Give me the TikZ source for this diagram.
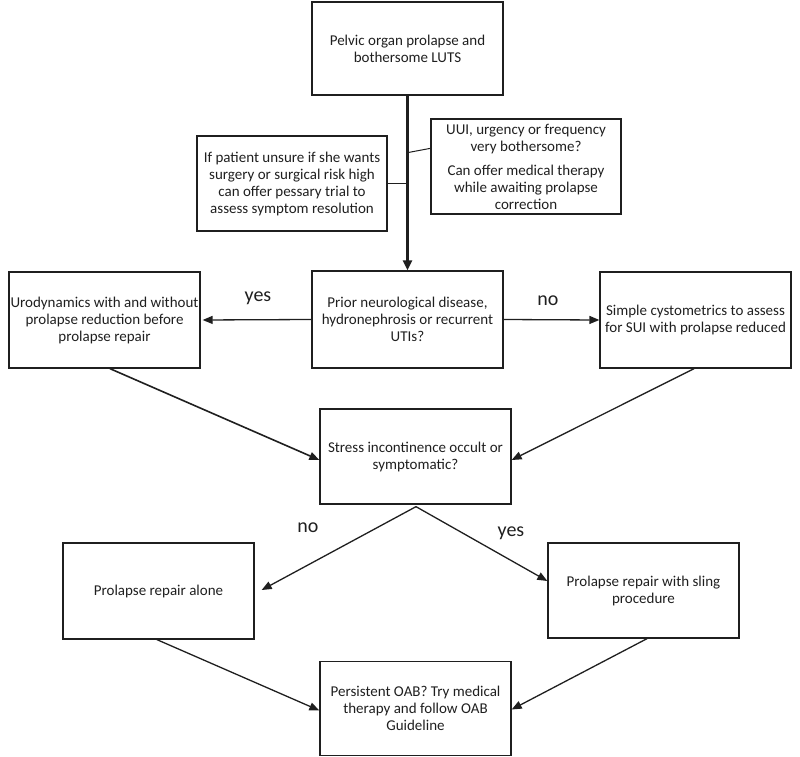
\documentclass[tikz,border=0pt]{standalone}
\usepackage{fontspec}
\setmainfont{Carlito}
\usetikzlibrary{arrows.meta,calc}
\definecolor{ink}{gray}{0.12}
\begin{document}
\begin{tikzpicture}[x=1pt,y=-1pt,
  box/.style={draw=ink, line width=1.3pt, rectangle, align=center, inner sep=1pt,
    font=\fontsize{15}{17}\selectfont, text=ink, minimum width=191pt, minimum height=95pt},
  conn/.style={draw=ink, line width=1.3pt},
  arr/.style={conn, -{Triangle[length=10pt,width=8pt]}},
  lab/.style={font=\fontsize{20}{24}\selectfont, text=ink, inner sep=0pt}]
\useasboundingbox (0,0) rectangle (800,757);

\node[box, minimum height=93pt] (top) at (407.5,48.5) {Pelvic organ prolapse and\\bothersome LUTS};
\node[box, minimum width=190pt] (pess) at (292,183.5) {If patient unsure if she wants\\surgery or surgical risk high\\can offer pessary trial to\\assess symptom resolution};
\node[box, minimum width=190pt] (uui) at (526,166.5) {UUI, urgency or frequency\\very bothersome?\\[7pt]Can offer medical therapy\\while awaiting prolapse\\correction};
\node[box, minimum height=97pt] (prior) at (407.5,319.5) {Prior neurological disease,\\hydronephrosis or recurrent\\UTIs?};
\node[box, minimum height=96pt] (uro) at (104.5,320) {Urodynamics with and without\\prolapse reduction before\\prolapse repair};
\node[box, minimum height=96pt] (cysto) at (695.5,320) {Simple cystometrics to assess\\for SUI with prolapse reduced};
\node[box] (stress) at (415.5,456.5) {Stress incontinence occult or\\symptomatic?};
\node[box, minimum height=96pt] (alone) at (158.5,591) {Prolapse repair alone};
\node[box] (sling) at (643.5,590.5) {Prolapse repair with sling\\procedure};
\node[box, minimum height=94pt] (oab) at (415.5,708.5) {Persistent OAB? Try medical\\therapy and follow OAB\\Guideline};

% main vertical arrow
\draw[arr, line width=2.4pt, -{Triangle[length=10pt,width=9pt]}] (top.south) -- (prior.north);
% side notes
\coordinate (pessJ) at (pess.east -| top.south);
\draw[conn, line width=1pt] (pess.east) -- (pessJ);
\coordinate (uuiJ) at ($(uui.north west)+(0,30)$);
\coordinate (mainJ) at ($(top.south)+(0,57)$);
\draw[conn, line width=1pt] (mainJ) -- (uuiJ);

% yes / no from prior
\draw[arr, shorten >=2pt] (prior.west) -- (uro.east);
\node[lab] (yes1) at (258,298) {yes};
\draw[arr] (prior.east) -- (cysto.west);
\node[lab] (no1) at (548,301) {no};

% to stress box
\coordinate (uroS) at ($(uro.south)+(5.5,0)$);
\coordinate (stressW) at ($(stress.west)+(0,3.5)$);
\draw[arr, line width=1.6pt] (uroS) -- (stressW);
\coordinate (cystoS) at ($(cysto.south)+(-1.5,0)$);
\coordinate (stressE) at ($(stress.east)+(0,3.5)$);
\draw[arr] (cystoS) -- (stressE);

% from stress
\coordinate (apex) at ($(stress.south)+(0.5,2)$);
\coordinate (aloneE) at ($(alone.east)+(7,-1)$);
\draw[arr] (apex) -- (aloneE);
\node[lab] (no2) at (308,528) {no};
\coordinate (slingW) at ($(sling.west)+(0,-9.5)$);
\draw[arr] (apex) -- (slingW);
\node[lab] (yes2) at (511,533) {yes};

% to OAB
\coordinate (aloneS) at ($(alone.south)+(-1.5,0)$);
\coordinate (oabW) at ($(oab.west)+(0,2)$);
\draw[arr] (aloneS) -- (oabW);
\coordinate (slingS) at ($(sling.south)+(3.5,0)$);
\coordinate (oabE) at ($(oab.east)+(0,1)$);
\draw[arr] (slingS) -- (oabE);
\end{tikzpicture}
\end{document}
